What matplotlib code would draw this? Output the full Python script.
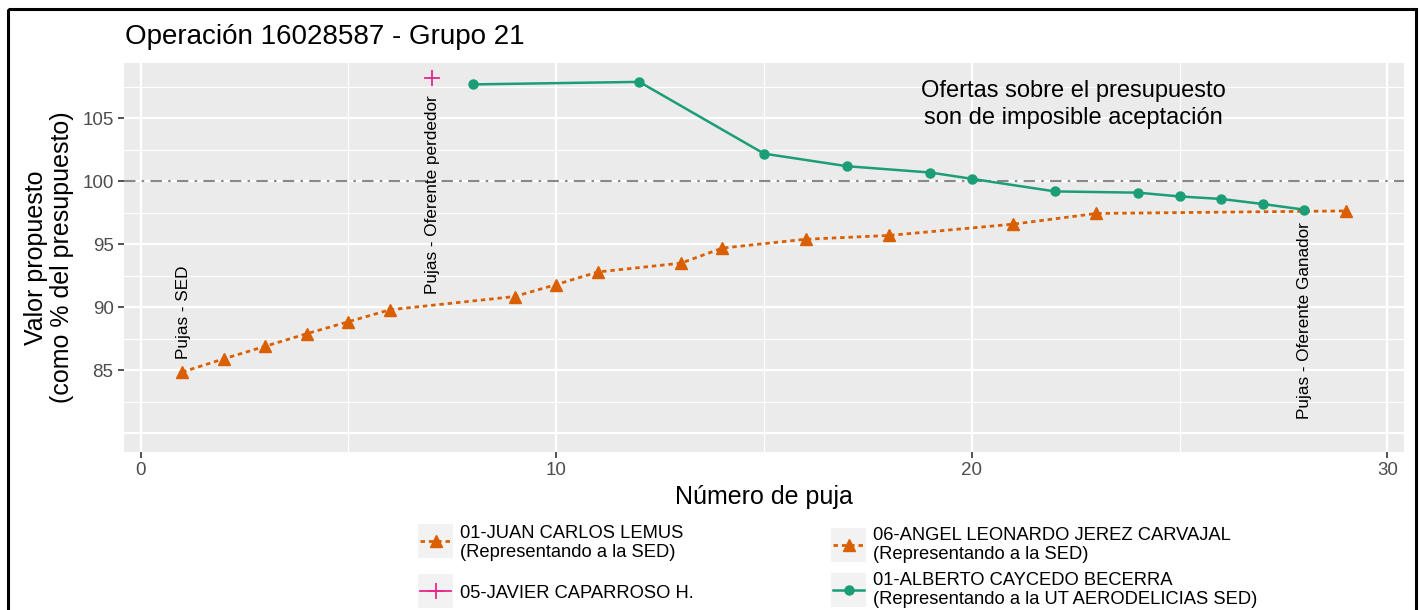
import matplotlib
matplotlib.use("Agg")
import matplotlib.pyplot as plt
from matplotlib.patches import Rectangle
from matplotlib.lines import Line2D

plt.rcParams["font.family"] = ["Liberation Sans", "DejaVu Sans"]

# ── data ────────────────────────────────────────────────────────────────
juan_x = [1, 2, 3, 4, 5, 6, 9, 10, 11]
juan_y = [84.85, 85.9, 86.9, 87.9, 88.85, 89.8, 90.85, 91.8, 92.8]
angel_x = [13, 14, 16, 18, 21, 23, 29]
angel_y = [93.5, 94.7, 95.4, 95.7, 96.6, 97.45, 97.65]
javier_x = [7]
javier_y = [108.2]
alberto_x = [8, 12, 15, 17, 19, 20, 22, 24, 25, 26, 27, 28]
alberto_y = [107.7, 107.9, 102.2, 101.2, 100.7, 100.2, 99.2, 99.1, 98.8, 98.6, 98.2, 97.75]

names = ["01-JUAN CARLOS LEMUS\n(Representando a la SED)",
         "05-JAVIER CAPARROSO H.",
         "06-ANGEL LEONARDO JEREZ CARVAJAL\n(Representando a la SED)",
         "01-ALBERTO CAYCEDO BECERRA\n(Representando a la UT AERODELICIAS SED)"]

BUDGET = 100
x_ticks = [0, 10, 20, 30]
y_ticks = [85, 90, 95, 100, 105]

ORANGE = "#D95F02"
GREEN = "#1B9E77"
PINK = "#E7298A"
GREY_TXT = "#4D4D4D"

W, H = 1420, 610
fig = plt.figure(figsize=(W / 100, H / 100), dpi=100)


def frac(x0, y0, x1, y1):
    return [x0 / W, 1 - y1 / H, (x1 - x0) / W, (y1 - y0) / H]


ax = fig.add_axes(frac(124, 63, 1404, 452))
ax.set_facecolor("#EBEBEB")
for s in ax.spines.values():
    s.set_visible(False)
ax.set_xlim(-0.4, 30.4)
ax.set_ylim(78.5, 109.4)

# grid
for v in [5, 15, 25]:
    ax.axvline(v, color="white", lw=0.8, zorder=0)
for v in [82.5, 87.5, 92.5, 97.5, 102.5, 107.5]:
    ax.axhline(v, color="white", lw=0.8, zorder=0)
for v in x_ticks:
    ax.axvline(v, color="white", lw=1.6, zorder=0)
for v in [80] + y_ticks:
    ax.axhline(v, color="white", lw=1.6, zorder=0)

ax.set_xticks(x_ticks)
ax.set_yticks(y_ticks)
ax.tick_params(colors="#333333", labelcolor=GREY_TXT, labelsize=13.5, length=4, width=1.2)

ax.axhline(BUDGET, color="#888888", lw=1.5, dashes=(5.5, 3, 1.2, 3), zorder=1)

# SED bids drawn as one continuous path
sed = sorted(zip(juan_x + angel_x, juan_y + angel_y))
ax.plot([p[0] for p in sed], [p[1] for p in sed], color=ORANGE, lw=2,
        dashes=(1.6, 1.4), zorder=2)
ax.plot(juan_x, juan_y, ls="none", marker="^", ms=8, color=ORANGE, zorder=3)
ax.plot(angel_x, angel_y, ls="none", marker="^", ms=8, color=ORANGE, zorder=3)
ax.plot(alberto_x, alberto_y, color=GREEN, lw=1.8, marker="o", ms=6.5, zorder=3)
ax.plot(javier_x, javier_y, ls="none", marker="+", ms=11, mew=1.3, color=PINK, zorder=3)

txt = dict(rotation=90, ha="center", fontsize=12.3, color="black")
ax.text(1.03, 85.9, "Pujas - SED", va="bottom", **txt)
ax.text(7.03, 106.8, "Pujas - Oferente perdedor", va="top", **txt)
ax.text(28.0, 96.75, "Pujas - Oferente Ganador", va="top", **txt)
ax.text(22.45, 106.1, "Ofertas sobre el presupuesto\nson de imposible aceptación",
        ha="center", va="center", fontsize=17, linespacing=1.32)

ax.set_xlabel("Número de puja", fontsize=18, labelpad=4)
ax.set_ylabel("Valor propuesto\n(como % del presupuesto)", fontsize=18, labelpad=6,
              linespacing=1.1)
fig.text(125 / W, 1 - 37 / H, "Operación 16028587 - Grupo 21", fontsize=20,
         ha="left", va="center")

# ── legend (manual, ggplot style key boxes) ─────────────────────────────
lg = fig.add_axes([0, 0, 1, 1], zorder=5)
lg.set_xlim(0, W)
lg.set_ylim(H, 0)
lg.axis("off")
lg.patch.set_alpha(0)

keys = [
    (418, 541, dict(color=ORANGE, lw=2, dashes=(1.6, 1.4), marker="^", ms=8), names[0], 543),
    (418, 591, dict(color=PINK, lw=1.3, marker="+", ms=11, mew=1.3), names[1], 593),
    (831, 545, dict(color=ORANGE, lw=2, dashes=(1.6, 1.4), marker="^", ms=8), names[2], 545),
    (831, 590, dict(color=GREEN, lw=1.8, marker="o", ms=6.5), names[3], 590),
]
for kx, ky, style, label, ty in keys:
    lg.add_patch(Rectangle((kx, ky - 17), 35, 34, facecolor="#F2F2F2", edgecolor="none"))
    lg.add_line(Line2D([kx + 2, kx + 33], [ky, ky], markevery=[], **style))
    mstyle = {k: v for k, v in style.items() if k in ("color", "marker", "ms", "mew")}
    lg.plot([kx + 17.5], [ky], ls="none", **mstyle)
    lg.text(kx + 42, ty, label, fontsize=13.2, va="center", ha="left", linespacing=1.15)

# outer frame
lg.add_patch(Rectangle((8, 9), 1408, 640, facecolor="none", edgecolor="black", lw=2.2,
                       clip_on=False))

fig.savefig("out.png", dpi=100)
